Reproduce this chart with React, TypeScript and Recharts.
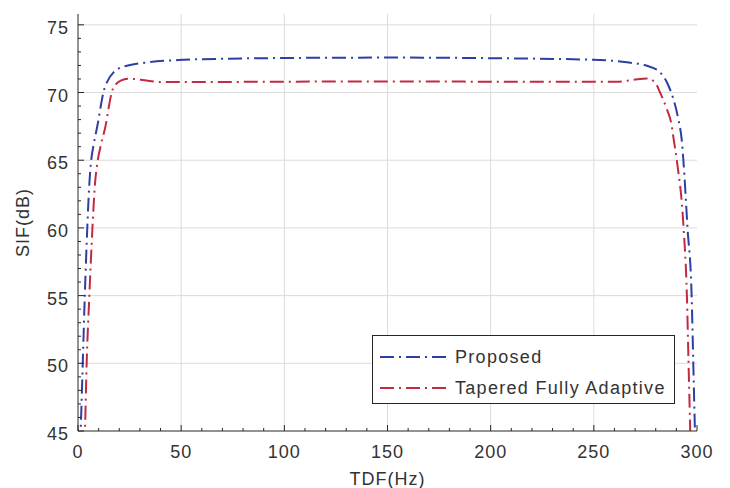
import React from 'react';
import { LineChart, Line, XAxis, YAxis, ReferenceLine, Legend } from 'recharts';

// Proposed (blue)
const proposedTdf = [0.6, 1.3, 2.3, 3.3, 4.5, 5.4, 6.4, 7.4, 9.7, 10.8, 12.3, 14.5, 17.3, 20, 24.2, 32.3, 48.5, 72.7, 100, 150, 204.5, 249.8, 266, 275.7, 282.1, 286.2, 288.6, 291, 292.6, 293.4, 295.4, 297.4, 298.2, 299, 299.5];
const proposedSif = [42, 45, 50, 55, 60, 63, 65, 66, 67.8, 68.8, 70, 70.9, 71.5, 71.8, 72.0, 72.2, 72.4, 72.5, 72.55, 72.58, 72.53, 72.42, 72.23, 71.98, 71.49, 70.5, 69.5, 68.0, 66.5, 65, 60, 55, 50, 45, 42];

// Tapered Fully Adaptive (red)
const taperedTdf = [2.9, 3.4, 4.2, 5.5, 7.0, 8.1, 9.6, 10.9, 13.7, 14.9, 16.3, 18.3, 21, 24, 27, 32.3, 40.4, 60, 100, 150, 200, 261, 269.2, 275.7, 279.7, 282.1, 285.4, 287.8, 288.6, 290.2, 293.5, 295.1, 295.9, 296.7, 297.1];
const taperedSif = [42, 45, 50, 55, 60, 63, 65, 66, 67.8, 68.9, 70, 70.6, 70.9, 71.02, 71.0, 70.9, 70.78, 70.78, 70.8, 70.82, 70.8, 70.79, 70.94, 71.04, 70.74, 70.0, 68.76, 67.5, 66.65, 65, 60, 55, 50, 45, 42];

const xMajor = [0, 50, 100, 150, 200, 250, 300];
const yMajor = [45, 50, 55, 60, 65, 70, 75];
const xTicks = Array.from({ length: 31 }, (_, i) => i * 10);
const yTicks = Array.from({ length: 31 }, (_, i) => 45 + i);

const BLUE = '#2c3fa3';
const RED = '#c32a40';
const AXIS = '#262626';
const TEXT = '#333333';
const FONT = '"Liberation Sans", Arial, Helvetica, sans-serif';
const DASH = '14 5 2 5';

const proposedData = proposedTdf.map((tdf, i) => ({ tdf, sif: proposedSif[i] }));
const taperedData = taperedTdf.map((tdf, i) => ({ tdf, sif: taperedSif[i] }));

const labelStyle = { fontFamily: FONT, fontSize: 18, fill: TEXT, letterSpacing: 1 };

// ticks point inward, labels only on major values
const BottomTick = ({ x, y, payload }: any) => {
  const major = xMajor.includes(payload.value);
  return (
    <g>
      <line x1={x} x2={x} y1={y} y2={y - (major ? 6 : 3)} stroke={AXIS} />
      {major && (
        <text x={x} y={y + 27} textAnchor="middle" style={labelStyle}>
          {payload.value}
        </text>
      )}
    </g>
  );
};

const TopTick = ({ x, y, payload }: any) => {
  const major = xMajor.includes(payload.value);
  return <line x1={x} x2={x} y1={y} y2={y + (major ? 6 : 3)} stroke={AXIS} />;
};

const LeftTick = ({ x, y, payload }: any) => {
  const major = yMajor.includes(payload.value);
  return (
    <g>
      <line x1={x} x2={x + (major ? 6 : 3)} y1={y} y2={y} stroke={AXIS} />
      {major && (
        <text x={x - 9} y={y + 9} textAnchor="end" style={labelStyle}>
          {payload.value}
        </text>
      )}
    </g>
  );
};

const RightTick = ({ x, y, payload }: any) => {
  const major = yMajor.includes(payload.value);
  return <line x1={x} x2={x - (major ? 6 : 3)} y1={y} y2={y} stroke={AXIS} />;
};

const XTitle = ({ viewBox }: any) => {
  const cx = viewBox.x + viewBox.width / 2;
  return (
    <text x={cx} y={viewBox.y + 54} textAnchor="middle" style={labelStyle}>
      TDF(Hz)
    </text>
  );
};

const YTitle = ({ viewBox }: any) => {
  const cx = viewBox.x + 23;
  const cy = viewBox.y + viewBox.height / 2;
  return (
    <text
      x={cx}
      y={cy}
      transform={`rotate(-90 ${cx} ${cy})`}
      textAnchor="middle"
      dominantBaseline="central"
      style={labelStyle}
    >
      SIF(dB)
    </text>
  );
};

const legendItems = [
  { name: 'Proposed', color: BLUE },
  { name: 'Tapered Fully Adaptive', color: RED },
];

const LegendBox = () => (
  <div
    style={{
      width: 303,
      height: 69,
      boxSizing: 'border-box',
      border: `1px solid ${AXIS}`,
      background: '#fff',
      position: 'relative',
    }}
  >
    {legendItems.map((item, i) => (
      <div
        key={item.name}
        style={{
          position: 'absolute',
          left: 7,
          top: i === 0 ? 10 : 41,
          height: 22,
          display: 'flex',
          alignItems: 'center',
        }}
      >
        <svg width={69} height={10}>
          <line x1={0} x2={68} y1={5} y2={5} stroke={item.color} strokeWidth={2} strokeDasharray={DASH} />
        </svg>
        <span style={{ marginLeft: 6, fontFamily: FONT, fontSize: 18, color: TEXT, letterSpacing: 1.3 }}>
          {item.name}
        </span>
      </div>
    ))}
  </div>
);

export default function App() {
  return (
    <div style={{ position: 'absolute', left: 0, top: 0, width: 730, height: 488, background: '#fff' }}>
      <LineChart width={730} height={488} margin={{ top: 14, right: 33, bottom: 0, left: 0 }}>
        <XAxis
          xAxisId={0}
          dataKey="tdf"
          type="number"
          domain={[0, 300]}
          ticks={xTicks}
          interval={0}
          tickSize={0}
          tickMargin={0}
          tickLine={false}
          tick={<BottomTick />}
          axisLine={{ stroke: AXIS }}
          height={57}
          label={<XTitle />}
        />
        <XAxis
          xAxisId="top"
          orientation="top"
          type="number"
          domain={[0, 300]}
          ticks={xTicks}
          interval={0}
          tickSize={0}
          tickMargin={0}
          tickLine={false}
          tick={<TopTick />}
          axisLine={{ stroke: AXIS }}
          height={0}
        />
        <YAxis
          yAxisId={0}
          type="number"
          domain={[45, 75.8]}
          allowDataOverflow
          ticks={yTicks}
          interval={0}
          tickSize={0}
          tickMargin={0}
          tickLine={false}
          tick={<LeftTick />}
          axisLine={{ stroke: AXIS }}
          width={78}
          label={<YTitle />}
        />
        <YAxis
          yAxisId="right"
          orientation="right"
          type="number"
          domain={[45, 75.8]}
          allowDataOverflow
          ticks={yTicks}
          interval={0}
          tickSize={0}
          tickMargin={0}
          tickLine={false}
          tick={<RightTick />}
          axisLine={{ stroke: AXIS }}
          width={0}
        />
        {xMajor.slice(1, -1).map((v) => (
          <ReferenceLine key={`gx-${v}`} x={v} stroke="#dcdcdc" strokeWidth={1} />
        ))}
        {yMajor.slice(1).map((v) => (
          <ReferenceLine key={`gy-${v}`} y={v} stroke="#dcdcdc" strokeWidth={1} />
        ))}
        <Line
          data={proposedData}
          dataKey="sif"
          name="Proposed"
          type="monotone"
          stroke={BLUE}
          strokeWidth={2}
          strokeDasharray={DASH}
          dot={false}
          isAnimationActive={false}
        />
        <Line
          data={taperedData}
          dataKey="sif"
          name="Tapered Fully Adaptive"
          type="monotone"
          stroke={RED}
          strokeWidth={2}
          strokeDasharray={DASH}
          dot={false}
          isAnimationActive={false}
        />
        <Legend
          layout="vertical"
          align="center"
          verticalAlign="middle"
          wrapperStyle={{ left: 372, top: 335, width: 303, height: 69 }}
          content={() => <LegendBox />}
        />
      </LineChart>
    </div>
  );
}
